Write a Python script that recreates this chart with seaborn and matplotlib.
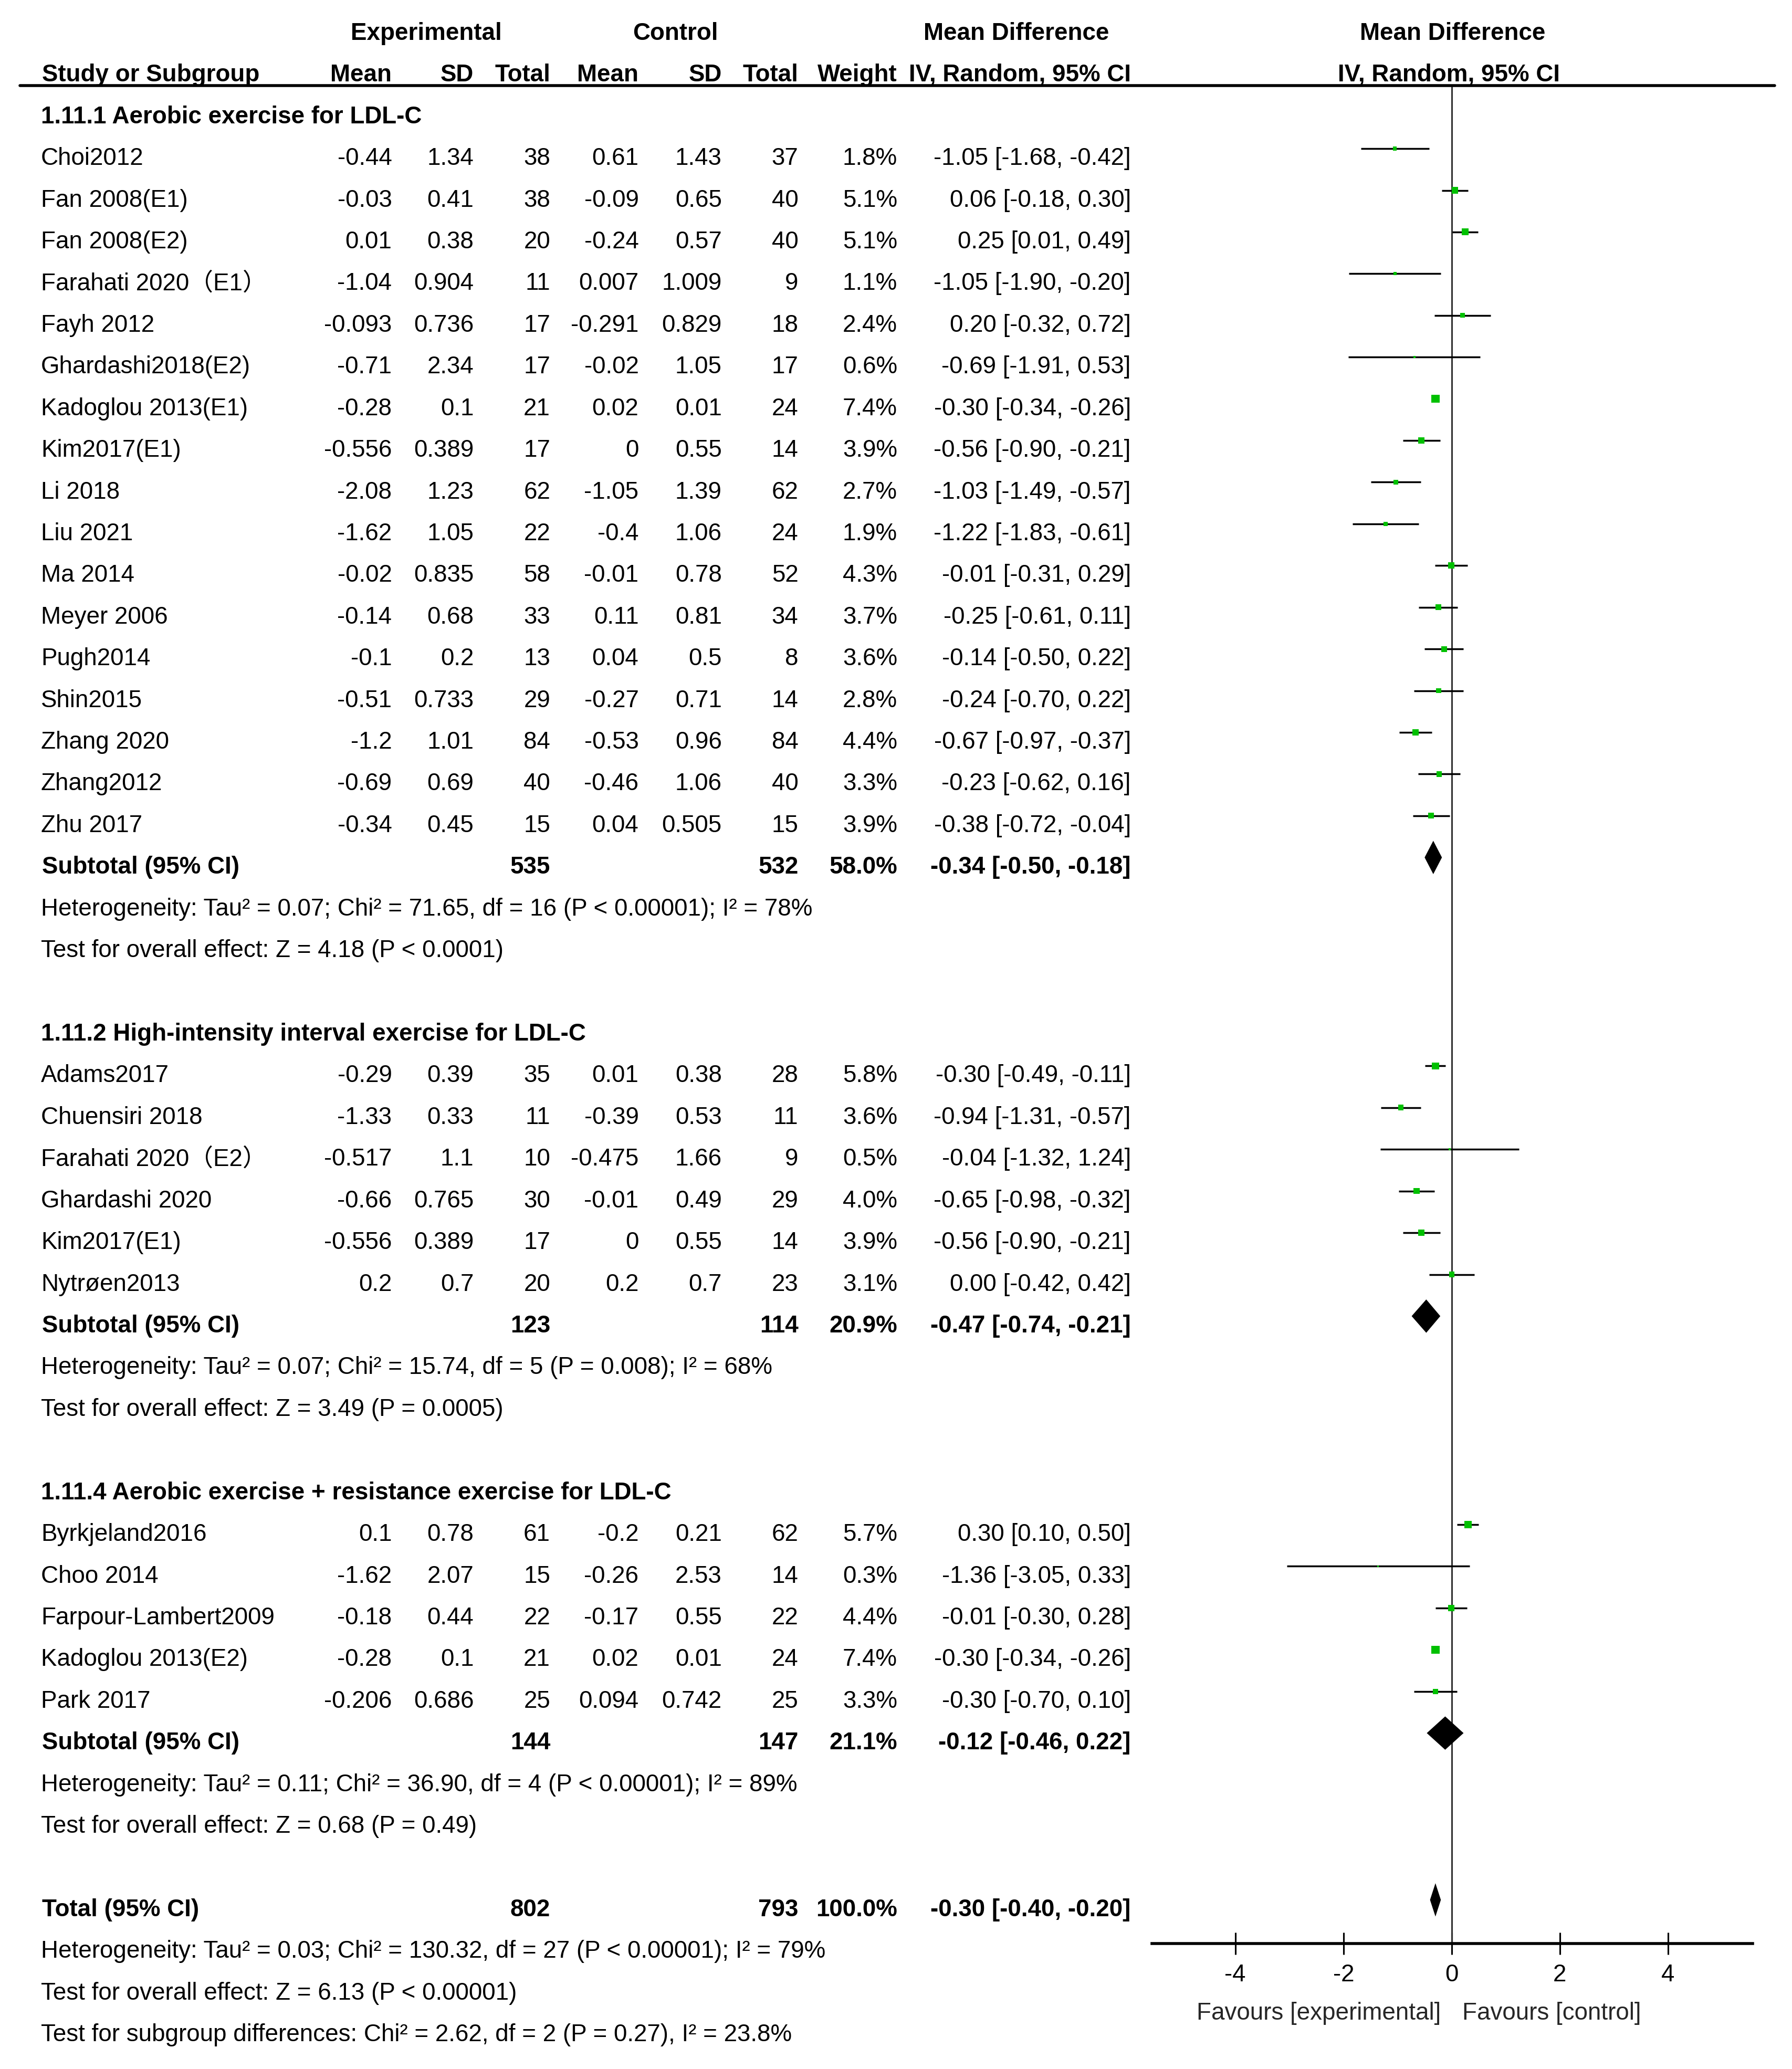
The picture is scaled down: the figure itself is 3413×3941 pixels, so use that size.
import matplotlib
matplotlib.use("Agg")
import matplotlib.pyplot as plt
import matplotlib.transforms as mtransforms
from matplotlib import font_manager
import pandas as pd
import seaborn as sns

# ---------------- data ----------------
group_titles = ["1.11.1 Aerobic exercise for LDL-C",
                "1.11.2 High-intensity interval exercise for LDL-C",
                "1.11.4 Aerobic exercise + resistance exercise for LDL-C"]

names1 = ["Choi2012", "Fan 2008(E1)", "Fan 2008(E2)", "Farahati 2020（E1）", "Fayh 2012",
          "Ghardashi2018(E2)", "Kadoglou 2013(E1)", "Kim2017(E1)", "Li 2018", "Liu 2021",
          "Ma 2014", "Meyer 2006", "Pugh2014", "Shin2015", "Zhang 2020", "Zhang2012", "Zhu 2017"]
exp_mean1 = [-0.44, -0.03, 0.01, -1.04, -0.093, -0.71, -0.28, -0.556, -2.08, -1.62, -0.02, -0.14, -0.1, -0.51, -1.2, -0.69, -0.34]
exp_sd1 = [1.34, 0.41, 0.38, 0.904, 0.736, 2.34, 0.1, 0.389, 1.23, 1.05, 0.835, 0.68, 0.2, 0.733, 1.01, 0.69, 0.45]
exp_n1 = [38, 38, 20, 11, 17, 17, 21, 17, 62, 22, 58, 33, 13, 29, 84, 40, 15]
ctl_mean1 = [0.61, -0.09, -0.24, 0.007, -0.291, -0.02, 0.02, 0, -1.05, -0.4, -0.01, 0.11, 0.04, -0.27, -0.53, -0.46, 0.04]
ctl_sd1 = [1.43, 0.65, 0.57, 1.009, 0.829, 1.05, 0.01, 0.55, 1.39, 1.06, 0.78, 0.81, 0.5, 0.71, 0.96, 1.06, 0.505]
ctl_n1 = [37, 40, 40, 9, 18, 17, 24, 14, 62, 24, 52, 34, 8, 14, 84, 40, 15]
weight1 = [1.8, 5.1, 5.1, 1.1, 2.4, 0.6, 7.4, 3.9, 2.7, 1.9, 4.3, 3.7, 3.6, 2.8, 4.4, 3.3, 3.9]
md1 = [-1.05, 0.06, 0.25, -1.05, 0.20, -0.69, -0.30, -0.56, -1.03, -1.22, -0.01, -0.25, -0.14, -0.24, -0.67, -0.23, -0.38]
lo1 = [-1.68, -0.18, 0.01, -1.90, -0.32, -1.91, -0.34, -0.90, -1.49, -1.83, -0.31, -0.61, -0.50, -0.70, -0.97, -0.62, -0.72]
hi1 = [-0.42, 0.30, 0.49, -0.20, 0.72, 0.53, -0.26, -0.21, -0.57, -0.61, 0.29, 0.11, 0.22, 0.22, -0.37, 0.16, -0.04]

names2 = ["Adams2017", "Chuensiri 2018", "Farahati 2020（E2）", "Ghardashi 2020", "Kim2017(E1)", "Nytrøen2013"]
exp_mean2 = [-0.29, -1.33, -0.517, -0.66, -0.556, 0.2]
exp_sd2 = [0.39, 0.33, 1.1, 0.765, 0.389, 0.7]
exp_n2 = [35, 11, 10, 30, 17, 20]
ctl_mean2 = [0.01, -0.39, -0.475, -0.01, 0, 0.2]
ctl_sd2 = [0.38, 0.53, 1.66, 0.49, 0.55, 0.7]
ctl_n2 = [28, 11, 9, 29, 14, 23]
weight2 = [5.8, 3.6, 0.5, 4.0, 3.9, 3.1]
md2 = [-0.30, -0.94, -0.04, -0.65, -0.56, 0.00]
lo2 = [-0.49, -1.31, -1.32, -0.98, -0.90, -0.42]
hi2 = [-0.11, -0.57, 1.24, -0.32, -0.21, 0.42]

names3 = ["Byrkjeland2016", "Choo 2014", "Farpour-Lambert2009", "Kadoglou 2013(E2)", "Park 2017"]
exp_mean3 = [0.1, -1.62, -0.18, -0.28, -0.206]
exp_sd3 = [0.78, 2.07, 0.44, 0.1, 0.686]
exp_n3 = [61, 15, 22, 21, 25]
ctl_mean3 = [-0.2, -0.26, -0.17, 0.02, 0.094]
ctl_sd3 = [0.21, 2.53, 0.55, 0.01, 0.742]
ctl_n3 = [62, 14, 22, 24, 25]
weight3 = [5.7, 0.3, 4.4, 7.4, 3.3]
md3 = [0.30, -1.36, -0.01, -0.30, -0.30]
lo3 = [0.10, -3.05, -0.30, -0.34, -0.70]
hi3 = [0.50, 0.33, 0.28, -0.26, 0.10]

sub_n_exp = [535, 123, 144]
sub_n_ctl = [532, 114, 147]
sub_weight = [58.0, 20.9, 21.1]
sub_md = [-0.34, -0.47, -0.12]
sub_lo = [-0.50, -0.74, -0.46]
sub_hi = [-0.18, -0.21, 0.22]
sub_het = ["Heterogeneity: Tau² = 0.07; Chi² = 71.65, df = 16 (P < 0.00001); I² = 78%",
           "Heterogeneity: Tau² = 0.07; Chi² = 15.74, df = 5 (P = 0.008); I² = 68%",
           "Heterogeneity: Tau² = 0.11; Chi² = 36.90, df = 4 (P < 0.00001); I² = 89%"]
sub_test = ["Test for overall effect: Z = 4.18 (P < 0.0001)",
            "Test for overall effect: Z = 3.49 (P = 0.0005)",
            "Test for overall effect: Z = 0.68 (P = 0.49)"]

total_n_exp, total_n_ctl, total_weight = 802, 793, 100.0
total_md, total_lo, total_hi = -0.30, -0.40, -0.20
total_notes = ["Heterogeneity: Tau² = 0.03; Chi² = 130.32, df = 27 (P < 0.00001); I² = 79%",
               "Test for overall effect: Z = 6.13 (P < 0.00001)",
               "Test for subgroup differences: Chi² = 2.62, df = 2 (P = 0.27), I² = 23.8%"]

x_ticks = [-4, -2, 0, 2, 4]

# ---------------- tables ----------------
groups = [
    (names1, exp_mean1, exp_sd1, exp_n1, ctl_mean1, ctl_sd1, ctl_n1, weight1, md1, lo1, hi1),
    (names2, exp_mean2, exp_sd2, exp_n2, ctl_mean2, ctl_sd2, ctl_n2, weight2, md2, lo2, hi2),
    (names3, exp_mean3, exp_sd3, exp_n3, ctl_mean3, ctl_sd3, ctl_n3, weight3, md3, lo3, hi3),
]
cols = ["name", "em", "esd", "en", "cm", "csd", "cn", "w", "md", "lo", "hi"]

study_rows, sub_rows, title_rows = [], [], []
r = -1
for g, grp in enumerate(groups):
    title_rows.append(r)
    r += 1
    for vals in zip(*grp):
        rec = dict(zip(cols, vals))
        rec["row"] = r
        study_rows.append(rec)
        r += 1
    sub_rows.append(r)
    r += 4
total_row = r
studies = pd.DataFrame(study_rows)
subs = pd.DataFrame({"row": sub_rows, "md": sub_md, "lo": sub_lo, "hi": sub_hi})

# ---------------- style ----------------
sns.set_theme(style="white")
installed = {f.name for f in font_manager.fontManager.ttflist}
narrow = "Liberation Sans Narrow" in installed
base = "Liberation Sans Narrow" if narrow else "Liberation Sans"
plt.rcParams["font.family"] = [base, "Noto Sans CJK SC", "DejaVu Sans"]
plt.rcParams["axes.unicode_minus"] = False
FS = 15.5 if narrow else 13.2

W, H = 1358, 1568          # layout grid in preview pixels
ROW0, ROWH = 118, 31.6


def row_of(ypx):
    return (ypx - ROW0) / ROWH


fig = plt.figure(figsize=(3413 / 250, 3941 / 250), dpi=250, facecolor="white")
ax = fig.add_axes([873 / W, 1 - 1473 / H, (1328 - 873) / W, (1473 - 65) / H])
trans = mtransforms.blended_transform_factory(fig.transFigure, ax.transData)

OFF = 0.17    # marks sit a little above the text line in the original
TOFF = 0.07   # small downward nudge for text
studies["yp"] = studies["row"] - OFF

ax.hlines(studies["yp"], studies["lo"], studies["hi"], color="black", lw=1.0, zorder=2)
sns.scatterplot(data=studies, x="md", y="yp", size="w", sizes=(0, 20), size_norm=(0, 7.4),
                marker="s", color="#00c000", linewidth=0, legend=False, ax=ax, zorder=3)

dh = 0.4
for _, s in subs.iterrows():
    y = s["row"] - OFF
    ax.fill([s["lo"], s["md"], s["hi"], s["md"]], [y, y - dh, y, y + dh], color="black", lw=0, zorder=3)
y = total_row - OFF
ax.fill([total_lo, total_md, total_hi, total_md], [y, y - dh, y, y + dh], color="black", lw=0, zorder=3)

ax.axvline(0, color="#333333", lw=0.9, zorder=1)
ax.set_xlim(-5.54, 5.56)
ax.set_ylim(row_of(1473), row_of(65))
ax.set_xticks(x_ticks)
ax.set_xticklabels([str(t) for t in x_ticks])
ax.set_yticks([])
ax.set(xlabel="", ylabel="")
ax.tick_params(axis="x", direction="inout", length=12, width=0.9, pad=5, labelsize=FS,
               colors="black", bottom=True)
sns.despine(ax=ax, left=True)
ax.spines["bottom"].set_linewidth(1.6)
ax.spines["bottom"].set_color("black")
ax.patch.set_alpha(0)

# top rule across the whole table
ax.plot([15 / W, 1345 / W], [row_of(65)] * 2, transform=trans, color="black", lw=1.6, clip_on=False)


def put(xpx, row, s, ha="left", bold=False):
    ax.text(xpx / W, row + TOFF, s, transform=trans, ha=ha, va="center", fontsize=FS,
            fontweight="bold" if bold else "normal", color="black")


# headers
put(323, -3, "Experimental", "center", True)
put(512, -3, "Control", "center", True)
put(770, -3, "Mean Difference", "center", True)
put(1101, -3, "Mean Difference", "center", True)
put(32, -2, "Study or Subgroup", bold=True)
for xpx, lab in [(297, "Mean"), (359, "SD"), (417, "Total"), (484, "Mean"), (547, "SD"),
                 (605, "Total"), (680, "Weight"), (857, "IV, Random, 95% CI"), (1182, "IV, Random, 95% CI")]:
    put(xpx, -2, lab, "right", True)

# studies
for _, s in studies.iterrows():
    rr = s["row"]
    put(31, rr, s["name"])
    put(297, rr, f"{s['em']:g}", "right")
    put(359, rr, f"{s['esd']:g}", "right")
    put(417, rr, f"{int(s['en'])}", "right")
    put(484, rr, f"{s['cm']:g}", "right")
    put(547, rr, f"{s['csd']:g}", "right")
    put(605, rr, f"{int(s['cn'])}", "right")
    put(680, rr, f"{s['w']:.1f}%", "right")
    put(857, rr, f"{s['md']:.2f} [{s['lo']:.2f}, {s['hi']:.2f}]", "right")

for g in range(3):
    put(31, title_rows[g], group_titles[g], bold=True)
    rr = sub_rows[g]
    put(32, rr, "Subtotal (95% CI)", bold=True)
    put(417, rr, str(sub_n_exp[g]), "right", True)
    put(605, rr, str(sub_n_ctl[g]), "right", True)
    put(680, rr, f"{sub_weight[g]:.1f}%", "right", True)
    put(857, rr, f"{sub_md[g]:.2f} [{sub_lo[g]:.2f}, {sub_hi[g]:.2f}]", "right", True)
    put(31, rr + 1, sub_het[g])
    put(31, rr + 2, sub_test[g])

put(32, total_row, "Total (95% CI)", bold=True)
put(417, total_row, str(total_n_exp), "right", True)
put(605, total_row, str(total_n_ctl), "right", True)
put(680, total_row, f"{total_weight:.1f}%", "right", True)
put(857, total_row, f"{total_md:.2f} [{total_lo:.2f}, {total_hi:.2f}]", "right", True)
for k, note in enumerate(total_notes):
    put(31, total_row + 1 + k, note)

ax.text(-0.2, row_of(1526), "Favours [experimental]", ha="right", va="center", fontsize=FS)
ax.text(0.2, row_of(1526), "Favours [control]", ha="left", va="center", fontsize=FS)

fig.savefig("out.png", dpi=250, facecolor="white")
